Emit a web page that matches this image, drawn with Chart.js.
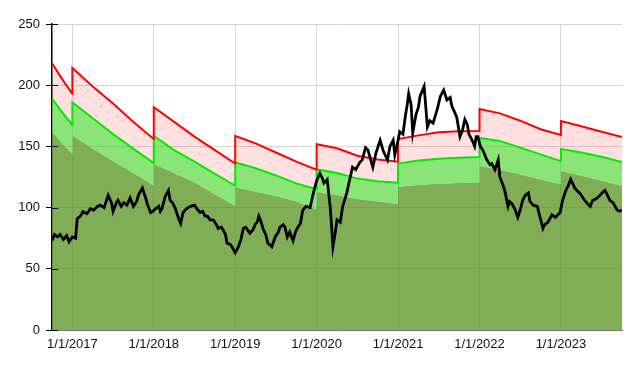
<!DOCTYPE html>
<html>
<head>
<meta charset="utf-8">
<script src="https://cdn.jsdelivr.net/npm/chart.js@4"></script>
<style>
  html, body { margin: 0; padding: 0; background: #fff; }
  #wrap { width: 640px; height: 368px; }
</style>
</head>
<body>
<div id="wrap"><canvas id="chart" width="640" height="368"></canvas></div>
<script>
// x values are decimal years, ticks fall on 1 January
const years = [2017, 2018, 2019, 2020, 2021, 2022, 2023];
const yTicks = [0, 50, 100, 150, 200, 250];

// yearly band curves (reset each 1 January)
const bandDates = [2016.75, 2016.875, 2016.999, 2017, 2017.25, 2017.5, 2017.75, 2017.999,
  2018, 2018.25, 2018.5, 2018.75, 2018.999, 2019, 2019.25, 2019.5, 2019.75, 2019.999,
  2020, 2020.25, 2020.5, 2020.75, 2020.999, 2021, 2021.25, 2021.5, 2021.75, 2021.999,
  2022, 2022.25, 2022.5, 2022.75, 2022.999, 2023, 2023.25, 2023.5, 2023.75];
const upperBand = [218, 205, 193, 214, 199, 185, 170, 156,
  182, 170, 158, 147, 136, 158.5, 152.5, 145, 137.5, 131,
  151.7, 148.5, 142.4, 139.3, 137.5, 156, 159, 161.5, 162.3, 162.5,
  180.5, 177, 171, 164, 159.3, 170.8, 166.5, 162, 157.7];
const middleBand = [189, 178, 167.5, 186, 173, 160, 148, 136.4,
  158.5, 147, 137.5, 127.5, 118, 137, 132.2, 126.3, 119.8, 115,
  131.3, 128.3, 123.7, 121.5, 120.4, 136, 138.5, 140, 140.8, 141.3,
  157, 154.5, 149, 143.5, 138, 148, 145, 141.5, 137.3];
const lowerBand = [161.7, 152.5, 143.7, 159, 148, 138, 128, 118,
  135.6, 128, 120.5, 111, 101.3, 116.8, 113, 109.5, 105, 98.5,
  112.7, 110, 107, 105, 103, 116.8, 118.5, 119.5, 120, 120.5,
  134, 131, 127, 123, 119, 130, 126, 122, 117.6];

// price line
const priceDates = [2016.75, 2016.78, 2016.82, 2016.85, 2016.89, 2016.93, 2016.96, 2017.00, 2017.04, 2017.06,
  2017.10, 2017.13, 2017.18, 2017.22, 2017.26, 2017.31, 2017.34, 2017.39, 2017.44, 2017.48,
  2017.50, 2017.54, 2017.56, 2017.60, 2017.63, 2017.67, 2017.71, 2017.75, 2017.79, 2017.81,
  2017.86, 2017.90, 2017.92, 2017.96, 2017.99, 2018.02, 2018.06, 2018.08, 2018.10, 2018.14,
  2018.18, 2018.20, 2018.23, 2018.26, 2018.30, 2018.33, 2018.36, 2018.40, 2018.45, 2018.50,
  2018.53, 2018.57, 2018.60, 2018.63, 2018.66, 2018.69, 2018.73, 2018.77, 2018.79, 2018.83,
  2018.85, 2018.88, 2018.90, 2018.94, 2018.96, 2019.00, 2019.04, 2019.07, 2019.10, 2019.13,
  2019.18, 2019.22, 2019.25, 2019.27, 2019.29, 2019.32, 2019.34, 2019.38, 2019.40, 2019.45,
  2019.49, 2019.53, 2019.55, 2019.59, 2019.61, 2019.64, 2019.67, 2019.71, 2019.74, 2019.76,
  2019.80, 2019.83, 2019.87, 2019.92, 2019.96, 2020.00, 2020.04, 2020.07, 2020.09, 2020.13,
  2020.17, 2020.20, 2020.23, 2020.25, 2020.29, 2020.32, 2020.37, 2020.41, 2020.44, 2020.48,
  2020.53, 2020.56, 2020.60, 2020.63, 2020.66, 2020.69, 2020.73, 2020.78, 2020.82, 2020.87,
  2020.90, 2020.94, 2020.96, 2021.00, 2021.02, 2021.06, 2021.09, 2021.11, 2021.13, 2021.16,
  2021.18, 2021.22, 2021.25, 2021.27, 2021.32, 2021.36, 2021.39, 2021.43, 2021.48, 2021.52,
  2021.56, 2021.60, 2021.64, 2021.66, 2021.72, 2021.76, 2021.79, 2021.82, 2021.85, 2021.87,
  2021.91, 2021.94, 2021.96, 2021.98, 2022.01, 2022.04, 2022.09, 2022.13, 2022.15, 2022.19,
  2022.23, 2022.25, 2022.29, 2022.31, 2022.35, 2022.37, 2022.40, 2022.44, 2022.47, 2022.50,
  2022.53, 2022.56, 2022.60, 2022.62, 2022.66, 2022.71, 2022.74, 2022.78, 2022.80, 2022.84,
  2022.89, 2022.93, 2022.96, 2022.99, 2023.02, 2023.06, 2023.09, 2023.12, 2023.15, 2023.17,
  2023.21, 2023.23, 2023.27, 2023.29, 2023.33, 2023.36, 2023.39, 2023.43, 2023.48, 2023.52,
  2023.54, 2023.58, 2023.60, 2023.64, 2023.69, 2023.72, 2023.75];
const priceValues = [73, 78, 76, 78, 74, 77, 72, 76, 75, 91,
  93, 96.7, 95, 99, 98, 101, 102, 100, 110, 104,
  97, 104, 106, 101, 104, 102, 108, 101, 105, 110,
  116, 108, 103, 96, 97, 99, 101, 97, 99, 109,
  114, 106, 104, 100, 92, 87, 96, 99, 101, 102,
  99, 96, 97, 93, 93, 90, 90, 86, 83, 84,
  82, 78, 71, 70, 68, 63, 68, 74, 83, 84,
  79, 82, 87, 88, 93, 88, 83, 77, 71, 68,
  76, 80, 84, 86, 84, 76, 80, 73, 80, 83,
  87, 98, 101, 100, 112, 122, 128, 124, 120, 123,
  98, 68, 80, 90, 88, 101, 112, 124, 133, 131,
  137, 139, 149, 147, 140, 133, 145, 155, 146, 139,
  150, 155, 143, 155, 162, 160, 175, 183, 193, 184,
  161, 176, 182, 191, 199, 166, 171, 169, 180, 191,
  196, 188, 190, 183, 174, 158, 163, 172, 168, 160,
  155, 150, 158, 158, 150, 147, 139, 135, 136, 131,
  139, 125, 118, 114, 101, 105, 103, 98, 92, 98,
  106, 110, 112, 105, 102, 101, 93, 83, 86, 88,
  94, 92, 94, 96, 106, 114, 118, 123, 119, 116,
  113, 112, 108, 106, 103, 101, 106, 107, 110, 113,
  114, 109, 106, 104, 98, 97, 98];

const toPoints = (xs, ys) => xs.map((x, i) => ({ x: x, y: ys[i] }));

// short black tick marks drawn just inside the y axis
const innerTicks = {
  id: "innerTicks",
  afterDatasetsDraw(chart) {
    const y = chart.scales.y;
    const ctx = chart.ctx;
    ctx.save();
    ctx.strokeStyle = "#000";
    ctx.lineWidth = 1;
    yTicks.forEach(v => {
      const py = Math.round(y.getPixelForValue(v)) + 0.5;
      ctx.beginPath();
      ctx.moveTo(chart.chartArea.left, py);
      ctx.lineTo(chart.chartArea.left + 6, py);
      ctx.stroke();
    });
    ctx.restore();
  }
};

const font = { family: "'Liberation Sans', Arial, Helvetica, sans-serif", size: 13 };

new Chart(document.getElementById("chart"), {
  type: "line",
  data: {
    datasets: [
      {
        data: toPoints(priceDates, priceValues),
        borderColor: "#000",
        borderWidth: 2.8,
        pointRadius: 0,
        fill: false,
        tension: 0
      },
      {
        data: toPoints(bandDates, upperBand),
        borderColor: "#ff0000",
        borderWidth: 2,
        pointRadius: 0,
        backgroundColor: "rgba(255,0,0,0.12)",
        fill: 2,
        tension: 0
      },
      {
        data: toPoints(bandDates, middleBand),
        borderColor: "rgb(0,235,0)",
        borderWidth: 2,
        pointRadius: 0,
        backgroundColor: "rgba(60,210,30,0.6)",
        fill: 3,
        tension: 0
      },
      {
        data: toPoints(bandDates, lowerBand),
        borderWidth: 0,
        borderColor: "rgba(0,0,0,0)",
        pointRadius: 0,
        backgroundColor: "rgba(85,145,30,0.75)",
        fill: "origin",
        tension: 0
      }
    ]
  },
  options: {
    responsive: false,
    animation: false,
    events: [],
    layout: { padding: { top: 24, right: 18, left: 0, bottom: 0 } },
    plugins: {
      legend: { display: false },
      tooltip: { enabled: false },
      filler: { drawTime: "beforeDatasetsDraw" }
    },
    scales: {
      x: {
        type: "linear",
        min: 2016.75,
        max: 2023.75,
        afterBuildTicks: axis => { axis.ticks = years.map(v => ({ value: v })); },
        afterFit: scale => { scale.height = 38; },
        grid: { color: "#d6d6d6", lineWidth: 1, drawTicks: false },
        border: { color: "#777", width: 1 },
        ticks: {
          callback: v => "1/1/" + v,
          font: font,
          color: "#111",
          padding: 7,
          maxRotation: 0
        }
      },
      y: {
        min: 0,
        max: 250,
        afterBuildTicks: axis => { axis.ticks = yTicks.map(v => ({ value: v })); },
        afterFit: scale => { scale.width = 52; },
        grid: { color: "#d6d6d6", lineWidth: 1, tickColor: "#000", tickLength: 6 },
        border: { color: "#000", width: 1.5 },
        ticks: { font: font, color: "#111", padding: 6 }
      }
    }
  },
  plugins: [innerTicks]
});
</script>
</body>
</html>
